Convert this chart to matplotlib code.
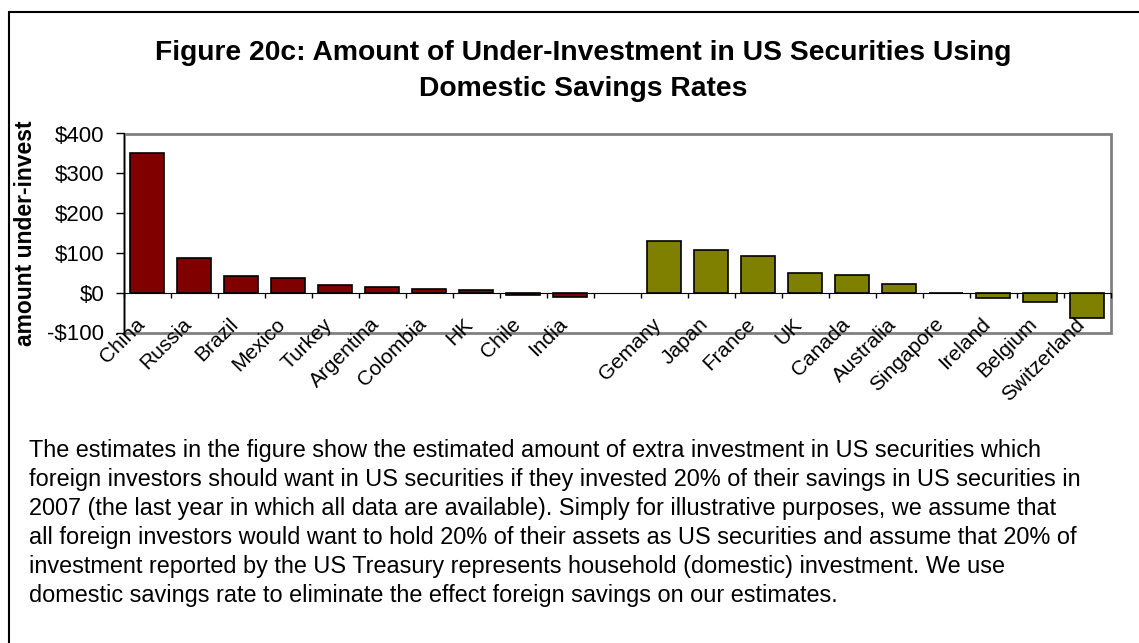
import numpy as np
import matplotlib
matplotlib.use("Agg")
import matplotlib.pyplot as plt
from matplotlib.patches import Rectangle

plt.rcParams['font.family'] = ['Liberation Sans', 'DejaVu Sans']

# --- data (US$ bn) ---
emerging = ["China", "Russia", "Brazil", "Mexico", "Turkey", "Argentina",
            "Colombia", "HK", "Chile", "India"]
emerging_vals = [351, 86, 41, 37, 19, 14, 10, 6, -5, -10]
developed = ["Gemany", "Japan", "France", "UK", "Canada", "Australia",
             "Singapore", "Ireland", "Belgium", "Switzerland"]
developed_vals = [131, 107, 91, 50, 45, 23, 0, -14, -23, -63]
y_ticks = [-100, 0, 100, 200, 300, 400]

TITLE = "Figure 20c: Amount of Under-Investment in US Securities Using\nDomestic Savings Rates"
YLABEL = "amount under-invest"
NOTE = [
    "The estimates in the figure show the estimated amount of extra investment in US securities which",
    "foreign investors should want in US securities if they invested 20% of their savings in US securities in",
    "2007 (the last year in which all data are available). Simply for illustrative purposes, we assume that",
    "all foreign investors would want to hold 20% of their assets as US securities and assume that 20% of",
    "investment reported by the US Treasury represents household (domestic) investment. We use",
    "domestic savings rate to eliminate the effect foreign savings on our estimates.",
]

RED = "#800000"
OLIVE = "#808000"

# one empty slot between the two groups
labels = emerging + [""] + developed
values = emerging_vals + [np.nan] + developed_vals
colors = [RED] * len(emerging) + ["none"] + [OLIVE] * len(developed)
x = np.arange(len(labels))

W, H = 1139, 643
fig = plt.figure(figsize=(W / 100, H / 100), dpi=100)
ax = fig.add_axes([123.5 / W, 1 - 332.5 / H, 987 / W, 199 / H])

ax.bar(x, values, width=0.73, color=colors, edgecolor="black", linewidth=1.2, zorder=3)

ax.set_xlim(-0.5, len(labels) - 0.5)
ax.set_ylim(y_ticks[0], y_ticks[-1])
ax.set_yticks(y_ticks)
ax.set_yticklabels([f"-${-v}" if v < 0 else f"${v}" for v in y_ticks])

# category axis sits on the zero line
ax.spines['bottom'].set_position(('data', 0))
ax.spines['bottom'].set_color('black')
ax.spines['bottom'].set_zorder(4)
ax.spines['left'].set_color('black')
ax.spines['top'].set_visible(False)
ax.spines['right'].set_visible(False)
ax.add_patch(Rectangle((0, 0), 1, 1, transform=ax.transAxes, fill=False,
                       edgecolor='#808080', linewidth=2, clip_on=False, zorder=1))

ax.set_xticks(np.arange(len(labels) + 1) - 0.5)
ax.set_xticklabels([])
ax.tick_params(axis='x', direction='out', length=3.6, width=1, color='black')
ax.tick_params(axis='y', direction='out', length=5.8, width=1, color='black',
               labelsize=16, pad=8)

for xi, lab in zip(x, labels):
    ax.annotate(lab, (xi, 0), xytext=(-4, -20.5), textcoords='offset points',
                rotation=45, rotation_mode='anchor', ha='right', va='center',
                fontsize=15, annotation_clip=False)

fig.text(26 / W, 1 - 233 / H, YLABEL, rotation=90, ha='center', va='center',
         fontsize=16.5, fontweight='bold')

title_lines = TITLE.split("\n")
fig.text(583 / W, 1 - 60 / H, title_lines[0], ha='center', va='baseline',
         fontsize=20.3, fontweight='bold')
fig.text(583 / W, 1 - 95.5 / H, title_lines[1], ha='center', va='baseline',
         fontsize=20.3, fontweight='bold')

for i, line in enumerate(NOTE):
    fig.text(29.3 / W, 1 - (456.7 + 29 * i) / H, line, ha='left', va='baseline',
             fontsize=16.9)

# outer chart frame (right and bottom edges run off the picture)
fig.patches.append(Rectangle((9 / W, -0.1), 1.2, 1 - 12 / H + 0.1,
                             transform=fig.transFigure, fill=False,
                             edgecolor='black', linewidth=1.5))

fig.savefig("out.png", dpi=100)
